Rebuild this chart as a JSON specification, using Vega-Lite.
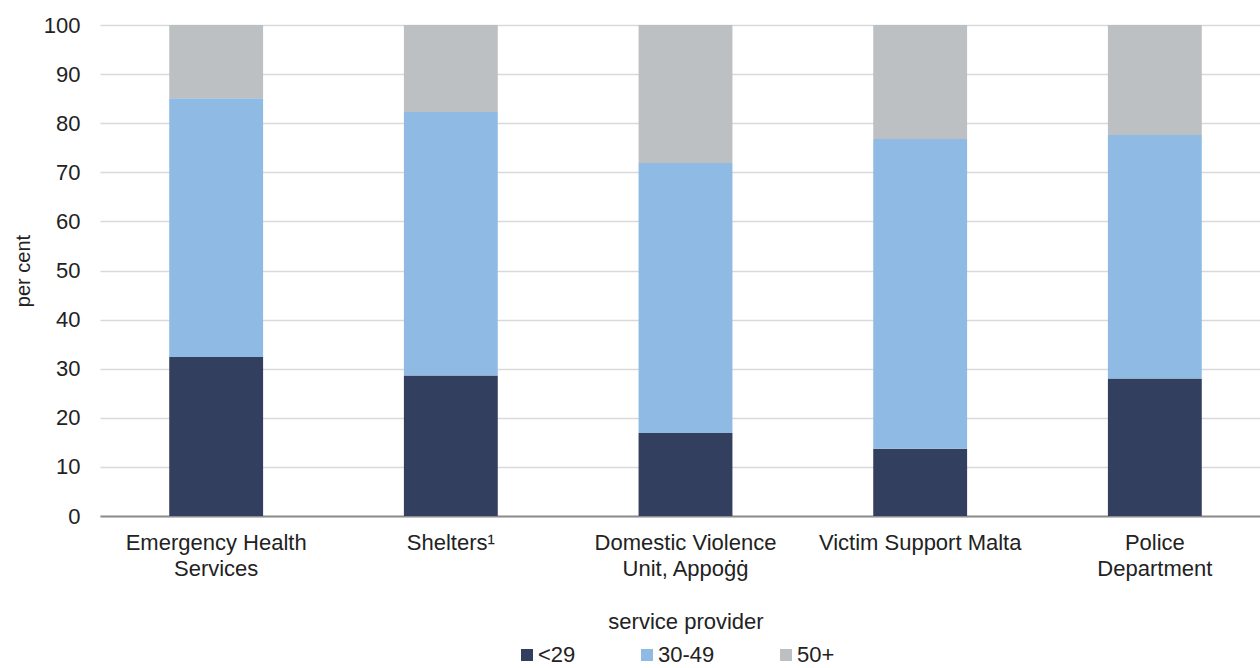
{
  "$schema": "https://vega.github.io/schema/vega-lite/v6.json",
  "autosize": "none",
  "width": 1160,
  "height": 491,
  "padding": {"left": 100, "top": 25, "right": 0, "bottom": 152},
  "background": "white",
  "config": {
    "font": "Liberation Sans",
    "view": {"stroke": null}
  },
  "data": {
    "values": [
      {"provider": "Emergency Health|Services", "age": "<29", "ord": 1, "value": 32.4},
      {"provider": "Emergency Health|Services", "age": "30-49", "ord": 2, "value": 52.7},
      {"provider": "Emergency Health|Services", "age": "50+", "ord": 3, "value": 14.9},
      {"provider": "Shelters¹", "age": "<29", "ord": 1, "value": 28.6},
      {"provider": "Shelters¹", "age": "30-49", "ord": 2, "value": 53.7},
      {"provider": "Shelters¹", "age": "50+", "ord": 3, "value": 17.7},
      {"provider": "Domestic Violence|Unit, Appoġġ", "age": "<29", "ord": 1, "value": 16.9},
      {"provider": "Domestic Violence|Unit, Appoġġ", "age": "30-49", "ord": 2, "value": 55.0},
      {"provider": "Domestic Violence|Unit, Appoġġ", "age": "50+", "ord": 3, "value": 28.1},
      {"provider": "Victim Support Malta", "age": "<29", "ord": 1, "value": 13.7},
      {"provider": "Victim Support Malta", "age": "30-49", "ord": 2, "value": 63.1},
      {"provider": "Victim Support Malta", "age": "50+", "ord": 3, "value": 23.2},
      {"provider": "Police|Department", "age": "<29", "ord": 1, "value": 28.0},
      {"provider": "Police|Department", "age": "30-49", "ord": 2, "value": 49.6},
      {"provider": "Police|Department", "age": "50+", "ord": 3, "value": 22.4}
    ]
  },
  "mark": {"type": "bar"},
  "encoding": {
    "x": {
      "field": "provider",
      "type": "nominal",
      "sort": null,
      "scale": {"range": [0, 1171], "paddingInner": 0.6, "paddingOuter": 0.295},
      "axis": {
        "title": "service provider",
        "titleFont": "Liberation Sans",
        "titleFontSize": 22,
        "titleFontWeight": "normal",
        "titleColor": "#222222",
        "titlePadding": 32,
        "labelAngle": 0,
        "labelFontSize": 22,
        "labelColor": "#222222",
        "labelPadding": 16,
        "labelLineHeight": 26,
        "labelExpr": "split(datum.label, '|')",
        "labelLimit": 300,
        "ticks": false,
        "domainColor": "#8c8c8c",
        "domainWidth": 2,
        "grid": false
      }
    },
    "y": {
      "field": "value",
      "type": "quantitative",
      "stack": "zero",
      "scale": {"domain": [0, 100], "nice": false},
      "axis": {
        "title": "per cent",
        "titleFontSize": 20,
        "titleFontWeight": "normal",
        "titleColor": "#222222",
        "titlePadding": 10,
        "values": [0, 10, 20, 30, 40, 50, 60, 70, 80, 90, 100],
        "labelFontSize": 22,
        "labelColor": "#222222",
        "labelPadding": 20,
        "ticks": false,
        "domain": false,
        "grid": true,
        "gridColor": "#d9d9d9",
        "gridWidth": 1.5
      }
    },
    "color": {
      "field": "age",
      "type": "nominal",
      "sort": ["<29", "30-49", "50+"],
      "scale": {"domain": ["<29", "30-49", "50+"], "range": ["#333f5e", "#8ebae3", "#bdc0c3"]},
      "legend": {
        "title": null,
        "orient": "none",
        "legendX": 416,
        "legendY": 619,
        "direction": "horizontal",
        "symbolType": "square",
        "symbolSize": 144,
        "symbolStrokeWidth": 0,
        "labelFontSize": 22,
        "labelColor": "#222222",
        "labelOffset": 0,
        "columnPadding": 60,
        "gridAlign": "none"
      }
    },
    "order": {"field": "ord", "type": "quantitative"}
  }
}
